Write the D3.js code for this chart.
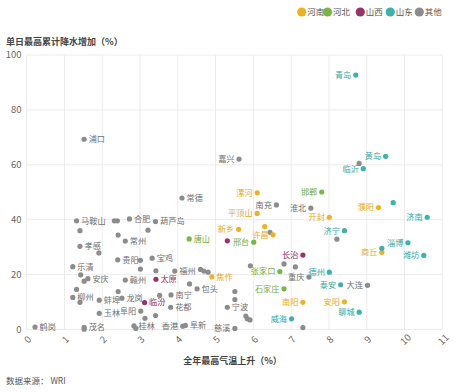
<!DOCTYPE html>
<html><head><meta charset="utf-8">
<script src="https://cdn.jsdelivr.net/npm/d3@7"></script>
<style>
body{margin:0;background:#fff}
text{font-family:"Noto Sans CJK SC","Noto Sans",sans-serif}
</style>
</head><body>
<svg id="c" width="455" height="392"></svg>
<script>
// ---- data ----
const provinces = ["河南","河北","山西","山东","其他"];
const xTicks = [0,1,2,3,4,5,6,7,8,9,10,11];
const yTicks = [0,20,40,60,80,100];
const cities = [
 "青岛","浦口","嘉兴","黄岛","临沂","邯郸","淮北","开封","濮阳","济南",
 "济宁","淄博","商丘","潍坊","长治","常德","漯河","南充","平顶山","葫芦岛",
 "新乡","许昌","唐山","邢台","张家口","重庆","石家庄","南阳","威海","焦作",
 "宁波","慈溪","包头","福州","宝鸡","太原","临汾","南宁","花都","香港",
 "阜新","桂林","茂名","鹤岗","玉林","阜阳","马鞍山","合肥","常州","孝感",
 "贵阳","乐清","安庆","赣州","柳州","蚌埠","龙岗","德州","泰安","大连",
 "安阳","聊城","","","","","","","","",
 "","","","","","","","","","",
 "","","","","","","","","","",
 "","","","","","","","","","",
 ""
];
const cityProvince = [
 "山东","其他","其他","山东","山东","河北","其他","河南","河南","山东",
 "山东","山东","河南","山东","山西","其他","河南","其他","河南","其他",
 "河南","河南","河北","河北","河北","其他","河北","河南","山东","河南",
 "其他","其他","其他","其他","其他","山西","山西","其他","其他","其他",
 "其他","其他","其他","其他","其他","其他","其他","其他","其他","其他",
 "其他","其他","其他","其他","其他","其他","其他","山东","山东","其他",
 "河南","山东","其他","山东","其他","山东","河南","其他","山西","其他",
 "其他","其他","其他","其他","其他","其他","其他","其他","其他","其他",
 "其他","其他","其他","其他","其他","其他","其他","其他","其他","其他",
 "其他","其他","其他","其他","其他","其他","其他","其他","其他","其他",
 "其他"
];
const tempRise = [
 8.71,1.52,5.62,9.50,8.91,7.81,7.52,8.01,9.31,10.60,
 8.41,10.09,9.40,10.51,7.31,4.11,6.10,6.61,6.10,3.41,
 5.61,6.52,4.30,6.01,6.70,7.47,6.81,7.31,7.01,4.90,
 5.31,5.51,4.51,3.92,3.32,3.42,3.12,3.82,3.81,4.13,
 4.20,2.84,1.52,0.22,1.92,3.02,1.32,2.72,2.61,1.41,
 2.41,1.22,1.62,2.61,1.22,1.92,2.52,8.01,8.31,9.02,
 8.41,8.80,8.80,9.70,8.21,9.40,6.30,6.44,5.31,5.92,
 6.81,7.11,5.51,5.51,5.80,5.84,5.91,7.31,4.60,4.69,
 4.80,4.31,3.42,3.01,3.01,3.52,3.41,3.13,2.89,1.52,
 2.32,2.40,1.41,2.42,3.21,1.91,1.43,1.52,1.32,2.42,
 1.41
];
const rainIncrease = [
 92.7,69.3,62.1,63.1,58.6,50.1,44.2,40.9,44.4,40.9,
 36.0,31.6,28.1,27.0,27.1,47.9,49.8,45.4,42.3,39.3,
 36.5,34.5,33.0,31.8,21.1,19.1,14.8,9.9,3.9,19.2,
 8.1,0.4,14.8,21.3,26.0,18.3,9.8,12.6,8.1,1.2,
 1.5,1.3,0.8,0.9,5.9,6.7,39.6,40.3,32.2,30.3,
 25.4,22.9,18.5,18.0,11.7,10.7,11.4,20.9,16.3,16.1,
 10.1,6.3,60.5,46.2,32.9,29.6,37.5,35.4,32.3,23.2,
 23.9,22.8,13.8,10.9,4.9,3.9,3.5,0.7,21.9,21.3,
 20.9,16.6,21.4,22.0,25.2,12.4,5.1,4.1,0.4,0.1,
 39.6,39.6,36.0,34.4,36.2,27.9,19.9,17.6,14.6,13.8,
 9.9
];
// label side: L = left of dot, R = right of dot
const labelSide = [
 "L","R","L","L","L","L","L","L","L","L",
 "L","L","L","L","L","R","L","L","L","R",
 "L","L","R","L","L","L","L","L","L","R",
 "R","L","R","R","R","R","R","R","R","L",
 "R","R","R","R","R","L","R","R","R","R",
 "R","R","R","R","R","R","R","L","L","L",
 "L","L"
];

// ---- styles ----
const colorMap = {"河南":"#efb21f","河北":"#77b744","山西":"#983268","山东":"#3db1ab","其他":"#8c8c8c"};
const labelColorMap = {"河南":"#e8a915","河北":"#6fae3e","山西":"#8e2d61","山东":"#35a8a2","其他":"#6f6f6f"};

const svg = d3.select("#c");
const x = d3.scaleLinear().domain([0,11]).range([26.7,442.3]);
const y = d3.scaleLinear().domain([0,100]).range([329.5,55]);

// gridlines
svg.append("g").selectAll("line").data(xTicks).join("line")
  .attr("x1",d=>x(d)).attr("x2",d=>x(d)).attr("y1",y(100)).attr("y2",y(0))
  .attr("stroke","#ececec").attr("stroke-width",1);
svg.append("g").selectAll("line").data(yTicks).join("line")
  .attr("x1",x(0)).attr("x2",x(11)).attr("y1",d=>y(d)).attr("y2",d=>y(d))
  .attr("stroke","#ececec").attr("stroke-width",1);

// y tick labels
svg.append("g").selectAll("text").data(yTicks).join("text")
  .attr("x",21.5).attr("y",d=>y(d)).attr("dy","0.35em")
  .attr("text-anchor","end").attr("font-size",9.5).attr("fill","#666")
  .text(d=>d);

// x tick labels (rotated)
svg.append("g").selectAll("text").data(xTicks).join("text")
  .attr("transform",d=>`translate(${x(d)+1},${339.5}) rotate(-45)`)
  .attr("dy","0.35em").attr("text-anchor","middle")
  .attr("font-size",9.5).attr("fill","#666")
  .text(d=>d);

// axis titles
svg.append("text").attr("x",6).attr("y",42).attr("dy","0.35em")
  .attr("font-size",9).attr("font-weight","bold").attr("fill","#444")
  .text("单日最高累计降水增加（%）");
svg.append("text").attr("x",232.5).attr("y",361).attr("dy","0.35em")
  .attr("text-anchor","middle").attr("font-size",9).attr("font-weight","bold").attr("fill","#444")
  .text("全年最高气温上升（%）");
svg.append("text").attr("x",6).attr("y",381).attr("dy","0.35em")
  .attr("font-size",8.5).attr("fill","#555")
  .text("数据来源： WRI");

// legend
const legendX = [301.7,327.5,360.3,390.3,419.3];
const lg = svg.append("g").selectAll("g").data(provinces).join("g")
  .attr("transform",(d,i)=>`translate(${legendX[i]},12)`);
lg.append("circle").attr("r",4.6).attr("fill",d=>colorMap[d]);
lg.append("text").attr("x",5.5).attr("dy","0.35em").attr("font-size",8.5).attr("fill","#555").text(d=>d);

// points
const pts = cities.map((n,i)=>({name:n,prov:cityProvince[i],tx:tempRise[i],ry:rainIncrease[i],side:labelSide[i]||""}));
const order = ["其他","山西","河北","河南","山东"];
const sorted = pts.slice().sort((a,b)=>order.indexOf(a.prov)-order.indexOf(b.prov));
svg.append("g").selectAll("circle").data(sorted).join("circle")
  .attr("cx",d=>x(d.tx)).attr("cy",d=>y(d.ry)).attr("r",2.6)
  .attr("fill",d=>colorMap[d.prov]);

// labels
svg.append("g").selectAll("text").data(pts.filter(d=>d.name)).join("text")
  .attr("x",d=>x(d.tx)+(d.side==="L"?-4.5:4.5))
  .attr("y",d=>y(d.ry)).attr("dy","0.35em")
  .attr("text-anchor",d=>d.side==="L"?"end":"start")
  .attr("font-size",8.2).attr("fill",d=>labelColorMap[d.prov])
  .text(d=>d.name);
</script>
</body></html>
